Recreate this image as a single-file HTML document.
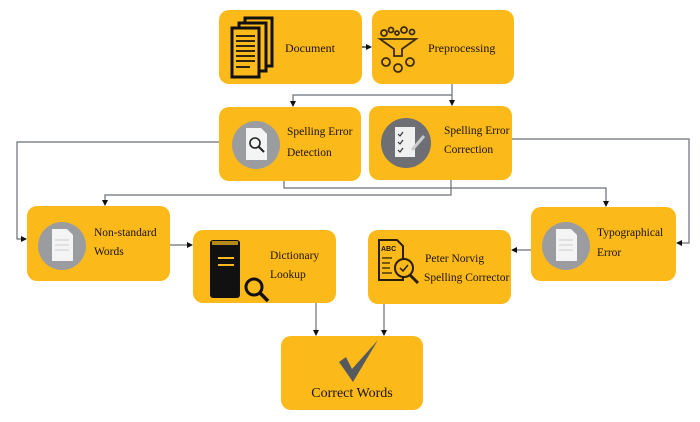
<!DOCTYPE html>
<html><head><meta charset="utf-8"><style>
html,body{margin:0;padding:0;background:#fff;}
svg{display:block;}
text{font-family:"Liberation Serif",serif;fill:#1a1208;}
</style></head><body>
<svg width="700" height="422" viewBox="0 0 700 422" xmlns="http://www.w3.org/2000/svg">
<defs>
<marker id="a" markerWidth="6" markerHeight="6" refX="5" refY="3" orient="auto" markerUnits="userSpaceOnUse"><path d="M0,0 L6,3 L0,6 z" fill="#111"/></marker>
</defs>
<g fill="#FCBA1A">
<rect x="219" y="10" width="143" height="74" rx="10"/>
<rect x="372" y="10" width="142" height="74" rx="10"/>
<rect x="219" y="107" width="142" height="74" rx="10"/>
<rect x="369" y="106" width="143" height="74" rx="10"/>
<rect x="27" y="206" width="143" height="75" rx="10"/>
<rect x="193" y="230" width="143" height="73" rx="10"/>
<rect x="368" y="230" width="143" height="74" rx="10"/>
<rect x="531" y="207" width="145" height="74" rx="10"/>
<rect x="281" y="336" width="142" height="74" rx="10"/>
</g>
<g stroke="#6b6f78" stroke-width="1.2" fill="none">
<path d="M362,47 L371,47" stroke="#111" marker-end="url(#a)"/>
<path d="M452,84 L452,105" marker-end="url(#a)"/>
<path d="M452,95 L293,95 L293,106" marker-end="url(#a)"/>
<path d="M219,142 L17,142 L17,239 L26,239" marker-end="url(#a)"/>
<path d="M512,139 L689,139 L689,243 L677,243" marker-end="url(#a)"/>
<path d="M284,181 L284,188 L606,188 L606,206" marker-end="url(#a)"/>
<path d="M451,180 L451,195 L105,195 L105,205" marker-end="url(#a)"/>
<path d="M170,245 L192,245" marker-end="url(#a)"/>
<path d="M531,250 L512,250" marker-end="url(#a)"/>
<path d="M316,303 L316,335" marker-end="url(#a)"/>
<path d="M384,304 L384,335" marker-end="url(#a)"/>
</g>
<!-- Document icon -->
<g fill="#FCBA1A" stroke="#111" stroke-width="3">
<rect x="245" y="18" width="27" height="48"/>
<rect x="239" y="23" width="27" height="48"/>
<rect x="232" y="28" width="27" height="49"/>
</g>
<g stroke="#111" stroke-width="1.8"><path d="M236,36h19M236,41h19M236,46h19M236,51h19M236,56h19M236,61h19M236,67h14"/></g>
<text x="285" y="52" font-size="12">Document</text>
<!-- Preprocessing icon -->
<g fill="none" stroke="#3a2a10" stroke-width="1.8">
<circle cx="384" cy="33" r="3"/><circle cx="391" cy="30" r="2.5"/><circle cx="397" cy="33" r="2"/><circle cx="404" cy="30" r="3"/><circle cx="412" cy="32" r="2.5"/>
<path d="M380,39 L416,39 L402,49 L402,56 L394,56 L394,49 Z"/>
<circle cx="386" cy="62" r="4"/><circle cx="398" cy="68" r="4"/><circle cx="410" cy="62" r="4"/>
</g>
<text x="428" y="52" font-size="12">Preprocessing</text>
<!-- Detection icon -->
<circle cx="256" cy="145" r="24" fill="#9a9ca0"/>
<path d="M246,128 h15 l6,6 v26 h-21 z" fill="#f4f4f4"/>
<circle cx="255" cy="143" r="5" fill="none" stroke="#222" stroke-width="1.6"/><path d="M259,147 l5,5" stroke="#222" stroke-width="2"/>
<text x="287" y="135" font-size="11.5">Spelling Error</text>
<text x="287" y="156" font-size="11.5">Detection</text>
<!-- Correction icon -->
<circle cx="406" cy="143" r="25" fill="#6d6f74"/>
<path d="M395,127 h20 v30 h-20 z" fill="#f0f0f0"/>
<path d="M398,134l2,2 3,-4M398,142l2,2 3,-4M398,150l2,2 3,-4" stroke="#333" stroke-width="1.2" fill="none"/>
<path d="M412,150 l12,-14" stroke="#ccc" stroke-width="3"/>
<text x="444" y="134" font-size="11.5">Spelling Error</text>
<text x="444" y="153" font-size="11.5">Correction</text>
<!-- Non-standard -->
<circle cx="62" cy="246" r="24" fill="#9a9ca0"/>
<path d="M52,229 h15 l6,6 v26 h-21 z" fill="#f4f4f4"/>
<g stroke="#ccc" stroke-width="1"><path d="M55,240h14M55,245h14M55,250h14"/></g>
<text x="94" y="236" font-size="11.5">Non-standard</text>
<text x="94" y="255" font-size="11.5">Words</text>
<!-- Dictionary -->
<rect x="210" y="240" width="30" height="58" rx="3" fill="#111"/>
<rect x="212" y="241" width="26" height="4" fill="#b38a1a"/>
<path d="M218,258h16M218,265h16" stroke="#FCBA1A" stroke-width="2"/>
<circle cx="254" cy="287" r="8" fill="#FCBA1A" stroke="#111" stroke-width="3"/>
<path d="M260,293 l8,8" stroke="#111" stroke-width="3.5"/>
<text x="270" y="259" font-size="11.5">Dictionary</text>
<text x="270" y="278" font-size="11.5">Lookup</text>
<!-- Norvig -->
<path d="M379,240 h18 l6,6 v34 h-24 z" fill="none" stroke="#2a1e0a" stroke-width="2"/>
<text x="381" y="251" font-size="7" font-weight="bold" style="font-family:'Liberation Sans',sans-serif">ABC</text>
<g stroke="#2a1e0a" stroke-width="1.3"><path d="M382,258h10M382,263h8M382,268h8M382,273h10"/></g>
<circle cx="404" cy="268" r="9" fill="#FCBA1A" stroke="#2a1e0a" stroke-width="2"/>
<path d="M400,268l3,3 5,-6" stroke="#2a1e0a" stroke-width="1.5" fill="none"/>
<path d="M410,275 l8,8" stroke="#2a1e0a" stroke-width="3"/>
<text x="425" y="262" font-size="11.5">Peter Norvig</text>
<text x="424" y="281" font-size="11.5">Spelling Corrector</text>
<!-- Typographical -->
<circle cx="566" cy="246" r="24" fill="#9a9ca0"/>
<path d="M556,229 h15 l6,6 v26 h-21 z" fill="#f4f4f4"/>
<g stroke="#ccc" stroke-width="1"><path d="M559,240h14M559,245h14M559,250h14"/></g>
<text x="597" y="236" font-size="11.5">Typographical</text>
<text x="597" y="256" font-size="11.5">Error</text>
<!-- Correct words -->
<path d="M339,362 L346,357 L352,369 L378,340 L353,382 Z" fill="#555a5e"/>
<text x="352" y="397" font-size="14" text-anchor="middle">Correct Words</text>
</svg>
</body></html>
